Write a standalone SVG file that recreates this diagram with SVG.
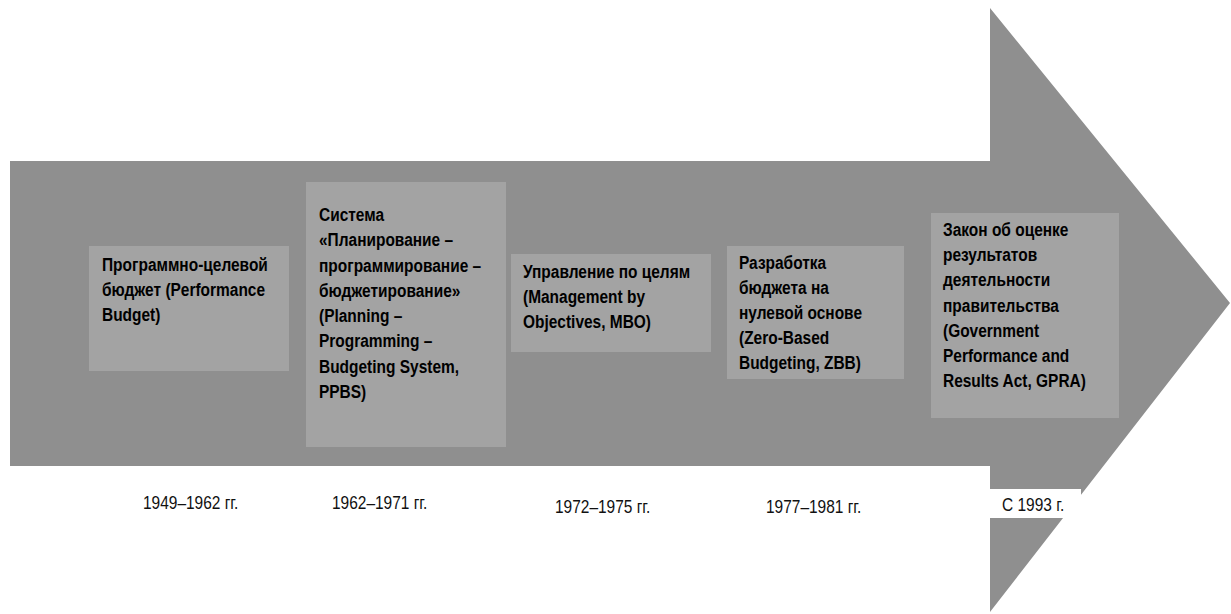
<svg xmlns="http://www.w3.org/2000/svg" width="1231" height="614" viewBox="0 0 1231 614">
<style>
.arrow{fill:#8f8f8f}
.box{fill:#a3a3a3}
.lbl{font-family:"Liberation Sans",Arial,sans-serif;font-weight:bold;font-size:18.3px;fill:#000}
.date{font-family:"Liberation Sans",Arial,sans-serif;font-size:18px;fill:#111}
</style>
<rect width="1231" height="614" fill="#ffffff"/>
<g id="arrow">
<path class="arrow" d="M10,161 H990 V8 L1230,303 L990,612 V466 H10 Z"/>
</g>
<g id="connectors"/>
<g id="node1">
<rect class="box" x="89" y="246" width="200" height="125"/>
<text class="lbl" transform="translate(102,271) scale(0.845,1)"><tspan x="0" y="0">Программно-целевой</tspan><tspan x="0" y="25">бюджет (Performance</tspan><tspan x="0" y="50">Budget)</tspan></text>
</g>
<g id="node2">
<rect class="box" x="306" y="182" width="200" height="265"/>
<text class="lbl" transform="translate(319,221) scale(0.845,1)"><tspan x="0" y="0">Система</tspan><tspan x="0" y="25.3">«Планирование –</tspan><tspan x="0" y="50.6">программирование –</tspan><tspan x="0" y="75.9">бюджетирование»</tspan><tspan x="0" y="101.2">(Planning –</tspan><tspan x="0" y="126.5">Programming –</tspan><tspan x="0" y="151.8">Budgeting System,</tspan><tspan x="0" y="177.1">PPBS)</tspan></text>
</g>
<g id="node3">
<rect class="box" x="511" y="254" width="200" height="98"/>
<text class="lbl" transform="translate(523,278) scale(0.845,1)"><tspan x="0" y="0">Управление по целям</tspan><tspan x="0" y="25">(Management by</tspan><tspan x="0" y="50">Objectives, MBO)</tspan></text>
</g>
<g id="node4">
<rect class="box" x="727" y="246" width="177" height="133"/>
<text class="lbl" transform="translate(739,269) scale(0.845,1)"><tspan x="0" y="0">Разработка</tspan><tspan x="0" y="25">бюджета на</tspan><tspan x="0" y="50">нулевой основе</tspan><tspan x="0" y="75">(Zero-Based</tspan><tspan x="0" y="100">Budgeting, ZBB)</tspan></text>
</g>
<g id="node5">
<rect class="box" x="931" y="213" width="188" height="205"/>
<text class="lbl" transform="translate(943,236) scale(0.845,1)"><tspan x="0" y="0">Закон об оценке</tspan><tspan x="0" y="25.2">результатов</tspan><tspan x="0" y="50.4">деятельности</tspan><tspan x="0" y="75.6">правительства</tspan><tspan x="0" y="100.8">(Government</tspan><tspan x="0" y="126">Performance and</tspan><tspan x="0" y="151.2">Results Act, GPRA)</tspan></text>
</g>
<g id="dates">
<text class="date" transform="translate(143,509) scale(0.86,1)">1949–1962 гг.</text>
<text class="date" transform="translate(332,509) scale(0.86,1)">1962–1971 гг.</text>
<text class="date" transform="translate(555,513) scale(0.86,1)">1972–1975 гг.</text>
<text class="date" transform="translate(766,513) scale(0.86,1)">1977–1981 гг.</text>
<rect x="988" y="489" width="93" height="29" fill="#ffffff"/>
<text class="date" transform="translate(1002,511) scale(0.86,1)">С 1993 г.</text>
</g>
</svg>
